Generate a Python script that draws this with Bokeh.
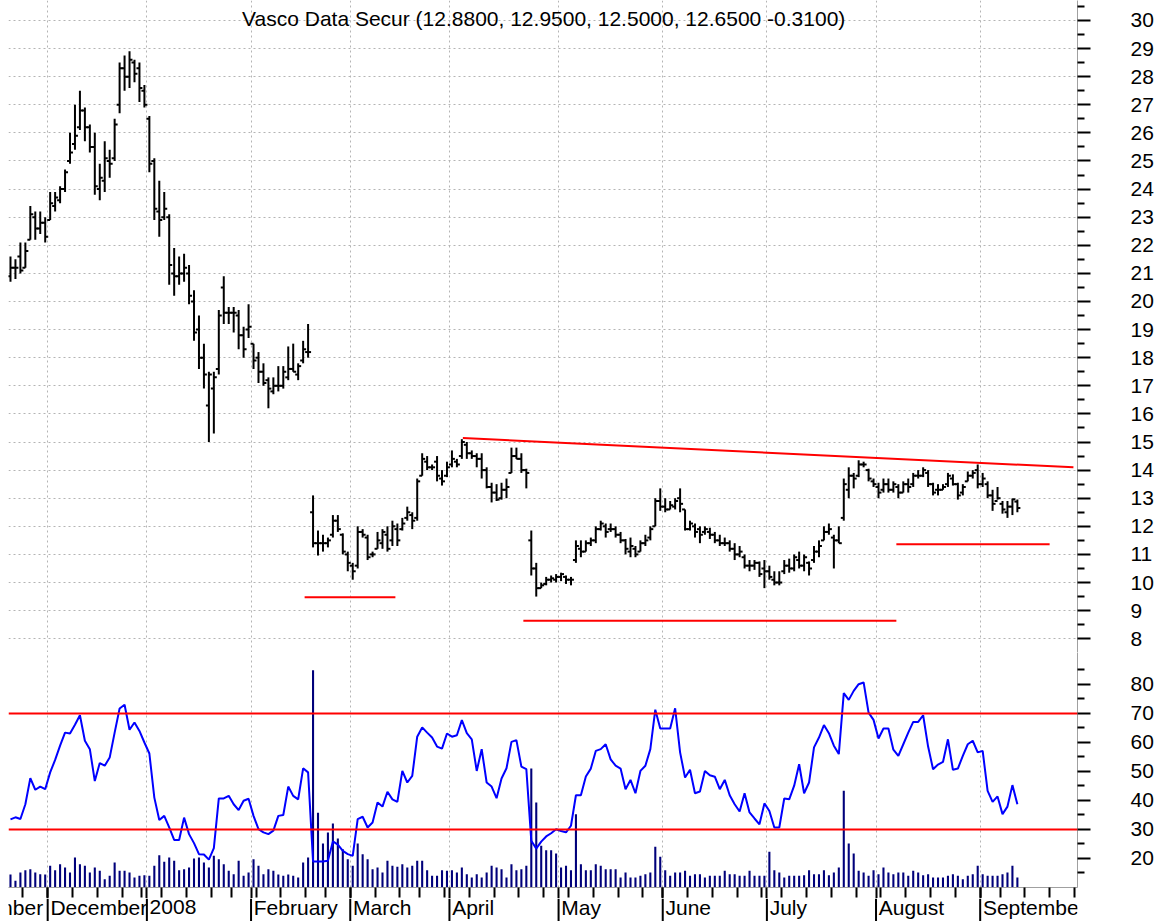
import numpy as np
import pandas as pd
from bokeh.plotting import figure
from bokeh.layouts import column
from bokeh.models import Range1d, FixedTicker, Label, Span, ColumnDataSource
from bokeh.core.properties import value
from bokeh.embed import file_html
from bokeh.resources import INLINE

FONT = "Liberation Sans"
FSIZE = "21px"

# ---------------- data ----------------
SYMBOL = "Vasco Data Secur"
LAST_CHANGE = -0.31
HOLIDAYS = ["2007-11-22", "2007-12-25", "2008-01-01", "2008-01-21", "2008-02-18",
            "2008-03-21", "2008-05-26", "2008-07-04", "2008-09-01"]
CAL_START, CAL_END, FIRST_DAY = "2007-11-01", "2008-09-30", "2007-11-20"
MONTH_LABELS = ["November", "December", "2008", "February", "March", "April",
                "May", "June", "July", "August", "September"]

HIGH = [21.6, 21.5, 22.1, 22.1, 23.4, 23.2, 23.2, 23.0, 23.9, 23.9,
        24.1, 24.7, 26.0, 27.0, 27.5, 26.9, 26.3, 26.0, 24.9, 25.7,
        25.4, 26.5, 28.5, 28.75, 28.9, 28.6, 28.5, 27.7, 26.6, 25.1,
        24.3, 23.9, 23.1, 21.9, 21.6, 21.7, 21.3, 20.4, 19.5, 18.5,
        17.5, 17.5, 19.7, 20.9, 19.8, 19.8, 19.7, 19.1, 19.9, 18.5,
        18.2, 17.8, 17.3, 17.3, 17.7, 17.7, 18.4, 18.5, 17.8, 18.6,
        19.2, 13.1, 11.85, 11.7, 11.6, 12.4, 12.4, 11.75, 11.1, 10.7,
        12.0, 11.9, 11.7, 11.1, 11.8, 11.9, 12.0, 12.2, 12.1, 12.3,
        12.7, 12.5, 13.7, 14.6, 14.5, 14.2, 14.5, 14.0, 14.3, 14.7,
        14.4, 15.1, 15.0, 14.7, 14.6, 14.6, 14.1, 13.55, 13.5, 13.55,
        13.7, 14.8, 14.8, 14.6, 14.05, 11.85, 10.7, 10.0, 10.2, 10.25,
        10.3, 10.35, 10.25, 10.2, 11.5, 11.5, 11.5, 11.6, 12.0, 12.2,
        12.1, 12.1, 12.0, 11.8, 11.55, 11.6, 11.3, 11.5, 11.7, 12.0,
        13.0, 13.35, 13.0, 12.9, 13.0, 13.35, 12.6, 12.2, 12.1, 12.0,
        12.0, 11.95, 11.8, 11.7, 11.6, 11.5, 11.4, 11.3, 11.0, 10.8,
        10.8, 10.75, 10.8, 10.6, 10.4, 10.4, 10.8, 10.85, 11.0, 11.1,
        11.0, 10.75, 11.3, 11.5, 12.0, 12.1, 11.7, 12.0, 13.7, 14.1,
        13.9, 14.35, 14.3, 14.05, 13.7, 13.55, 13.7, 13.7, 13.6, 13.5,
        13.6, 13.7, 13.9, 14.0, 14.1, 14.0, 13.55, 13.5, 13.5, 13.9,
        13.85, 13.55, 13.5, 13.95, 14.0, 14.2, 13.9, 13.6, 13.3, 13.4,
        12.9, 12.9, 12.99, 12.95]
LOW = [20.7, 20.8, 21.0, 21.2, 22.2, 22.2, 22.4, 22.1, 22.9, 23.2,
       23.5, 23.9, 24.9, 25.4, 26.1, 25.7, 25.3, 23.8, 23.6, 23.9,
       24.4, 25.0, 26.7, 27.5, 27.6, 27.8, 27.1, 26.9, 24.6, 22.9,
       22.3, 22.9, 20.6, 20.2, 20.6, 20.7, 19.9, 18.6, 17.6, 16.9,
       15.0, 15.3, 17.4, 19.2, 19.2, 18.9, 18.3, 18.0, 18.7, 17.6,
       17.1, 17.0, 16.2, 16.7, 16.8, 16.9, 17.2, 17.5, 17.2, 17.8,
       18.0, 11.25, 10.96, 11.1, 11.25, 11.6, 11.8, 11.0, 10.4, 10.1,
       10.5, 11.6, 10.8, 10.9, 11.2, 11.2, 11.1, 11.3, 11.3, 11.85,
       12.2, 11.9, 12.2, 13.8, 14.0, 14.0, 13.6, 13.45, 13.75, 14.1,
       14.1, 14.4, 14.4, 14.4, 14.1, 13.7, 13.35, 12.85, 12.9, 12.95,
       13.0, 13.9, 14.4, 13.9, 13.35, 10.25, 9.5, 9.8, 9.9, 10.0,
       10.0, 10.05, 9.95, 9.9, 10.7, 10.9, 11.1, 11.3, 11.4, 11.85,
       11.6, 11.8, 11.6, 11.4, 11.0, 10.9, 10.9, 11.1, 11.3, 11.5,
       12.0, 12.55, 12.5, 12.6, 12.6, 12.5, 11.85, 11.85, 11.6, 11.4,
       11.7, 11.55, 11.4, 11.3, 11.3, 11.1, 10.8, 10.9, 10.5, 10.4,
       10.45, 10.2, 9.8, 10.1, 9.9, 9.9, 10.3, 10.35, 10.4, 10.5,
       10.4, 10.25, 10.7, 10.9, 11.5, 11.7, 10.5, 11.4, 12.2, 13.0,
       13.35, 13.75, 14.1, 13.6, 13.4, 13.0, 13.2, 13.2, 13.2, 13.0,
       13.2, 13.2, 13.4, 13.7, 13.75, 13.4, 13.1, 13.1, 13.3, 13.4,
       13.45, 12.95, 13.1, 13.6, 13.7, 13.35, 13.4, 13.0, 12.55, 12.95,
       12.45, 12.3, 12.4, 12.5]
OPEN = [20.9, 21.2, 21.6, 21.2, 22.2, 23.0, 22.6, 22.8, 22.9, 23.4,
        23.6, 24.0, 25.0, 25.6, 26.2, 26.8, 26.2, 25.5, 24.0, 24.3,
        25.0, 25.1, 27.0, 28.3, 28.0, 28.5, 28.3, 27.5, 26.5, 25.0,
        23.2, 23.0, 23.0, 21.0, 20.9, 21.0, 21.0, 20.0, 19.0, 18.0,
        16.3, 16.9, 17.6, 20.5, 19.6, 19.6, 19.5, 18.8, 19.0, 18.5,
        18.0, 17.5, 17.2, 16.8, 17.0, 17.0, 17.3, 17.6, 17.4, 17.9,
        18.2, 12.5, 11.4, 11.4, 11.4, 11.7, 12.2, 11.7, 11.0, 10.6,
        10.6, 11.8, 11.6, 11.0, 11.2, 11.4, 11.7, 11.5, 11.9, 11.9,
        12.3, 12.4, 12.3, 13.8, 14.3, 14.1, 14.3, 13.7, 13.8, 14.2,
        14.3, 14.5, 14.9, 14.6, 14.5, 14.4, 14.0, 13.4, 13.2, 13.0,
        13.3, 13.9, 14.5, 14.4, 14.0, 11.5, 10.5, 9.8, 9.95, 10.1,
        10.1, 10.2, 10.2, 10.1, 10.8, 11.2, 11.1, 11.4, 11.5, 11.9,
        12.0, 11.9, 11.9, 11.7, 11.5, 11.1, 11.2, 11.1, 11.4, 11.6,
        12.0, 12.9, 12.7, 12.6, 12.7, 13.0, 12.6, 11.9, 12.0, 11.9,
        11.8, 11.8, 11.7, 11.5, 11.4, 11.4, 11.2, 11.0, 10.9, 10.6,
        10.6, 10.7, 10.5, 10.4, 10.1, 10.0, 10.4, 10.6, 10.5, 10.8,
        10.6, 10.7, 10.8, 11.1, 11.5, 11.8, 11.6, 11.5, 12.3, 13.3,
        13.8, 13.8, 14.2, 14.0, 13.6, 13.4, 13.3, 13.5, 13.3, 13.4,
        13.2, 13.5, 13.5, 13.8, 13.8, 13.9, 13.5, 13.3, 13.3, 13.5,
        13.7, 13.5, 13.2, 13.6, 13.8, 14.0, 13.5, 13.5, 13.1, 12.9,
        12.8, 12.5, 12.7, 12.88]
CLOSE = [21.2, 21.2, 21.1, 21.8, 23.1, 22.6, 22.8, 22.3, 23.5, 23.7,
         24.0, 24.6, 25.3, 25.9, 26.8, 26.2, 25.5, 24.1, 24.4, 25.1,
         24.9, 26.3, 28.3, 28.0, 28.6, 28.1, 27.6, 27.0, 24.9, 23.3,
         22.9, 23.3, 21.3, 20.9, 21.0, 21.2, 20.2, 18.9, 18.0, 17.4,
         17.4, 17.3, 19.5, 19.6, 19.6, 19.6, 18.8, 18.3, 19.1, 17.9,
         17.5, 17.1, 16.9, 17.0, 17.0, 17.5, 17.6, 17.5, 17.7, 18.3,
         18.2, 11.4, 11.4, 11.4, 11.5, 12.2, 11.9, 11.1, 10.7, 10.4,
         11.8, 11.7, 10.9, 11.0, 11.5, 11.8, 11.2, 12.0, 11.5, 12.1,
         12.5, 12.2, 13.6, 14.4, 14.1, 14.1, 13.8, 13.6, 14.1, 14.4,
         14.2, 15.0, 14.6, 14.5, 14.4, 14.0, 13.4, 13.2, 12.95, 13.3,
         13.4, 14.5, 14.4, 14.0, 13.9, 10.5, 9.8, 9.9, 10.1, 10.15,
         10.2, 10.3, 10.1, 10.1, 11.3, 11.1, 11.4, 11.5, 11.9, 12.1,
         11.8, 11.9, 11.7, 11.5, 11.2, 11.3, 11.0, 11.4, 11.5, 11.9,
         12.9, 12.7, 12.6, 12.75, 12.9, 12.8, 11.9, 12.1, 11.8, 11.7,
         11.9, 11.7, 11.5, 11.4, 11.4, 11.2, 11.0, 11.1, 10.6, 10.6,
         10.7, 10.3, 10.4, 10.2, 10.0, 10.0, 10.6, 10.5, 10.9, 10.6,
         10.9, 10.5, 11.1, 11.3, 11.8, 11.9, 11.5, 11.4, 13.5, 13.8,
         13.7, 14.2, 14.2, 13.7, 13.5, 13.2, 13.5, 13.3, 13.5, 13.2,
         13.5, 13.4, 13.8, 13.8, 14.0, 13.5, 13.2, 13.3, 13.4, 13.8,
         13.5, 13.1, 13.4, 13.8, 13.9, 13.5, 13.7, 13.1, 12.8, 13.0,
         12.6, 12.7, 12.96, 12.65]

RSI = [33.5, 34.2, 33.6, 38.7, 47.7, 43.7, 44.8, 43.9, 49.7, 54.0,
       58.9, 63.4, 63.1, 66.1, 69.4, 60.6, 57.7, 46.7, 52.9, 52.0,
       54.8, 63.4, 71.7, 73.0, 64.4, 66.9, 64.0, 60.0, 56.2, 41.0,
       33.3, 34.7, 30.7, 26.4, 26.4, 34.1, 28.4, 25.3, 21.5, 21.4,
       19.6, 23.6, 40.7, 40.7, 41.6, 38.7, 36.7, 39.9, 40.6, 34.7,
       30.1, 29.0, 28.4, 29.6, 34.7, 35.0, 44.8, 41.6, 40.4, 51.1,
       49.7, 19.0, 19.0, 19.0, 19.2, 25.9, 24.8, 22.6, 21.5, 20.9,
       33.6, 34.4, 30.7, 32.4, 39.3, 37.9, 43.0, 40.4, 39.5,
       50.2, 46.2, 48.5, 62.0, 65.2, 63.4, 61.7, 58.6, 57.9, 63.1,
       62.0, 62.5, 67.7, 63.2, 61.1, 50.2, 57.7, 46.2, 44.8, 40.8,
       47.6, 51.1, 60.2, 60.8, 51.7, 50.8, 26.1, 23.4, 25.8, 27.6,
       28.7, 30.1, 29.5, 29.0, 31.3, 41.8, 41.8, 48.3, 51.0, 57.1,
       57.7, 59.4, 54.2, 52.0, 51.0, 43.9, 47.1, 42.5, 50.2, 52.0,
       57.7, 71.3, 64.8, 64.8, 64.8, 71.8, 56.6, 47.9, 50.6, 42.5,
       43.1, 50.2, 48.7, 48.2, 43.9, 47.1, 41.8, 38.7, 36.2, 42.5,
       35.9, 33.8, 31.8, 39.0, 36.4, 30.7,
       30.7, 40.7, 40.4, 45.1, 52.5, 42.5, 46.2, 58.3, 61.7, 66.0,
       63.2, 58.9, 56.0, 77.0, 74.7, 77.8, 80.1, 80.7, 70.3, 67.8,
       61.4, 64.8, 64.8, 57.5, 55.4, 59.4, 63.4, 67.1, 67.1, 69.4,
       58.6, 50.8, 52.4, 53.3, 61.1, 50.6, 51.0, 55.4, 59.4, 60.6,
       56.6, 57.1, 43.3, 39.5, 41.4, 35.3, 37.9, 45.3, 38.7]

VOLUME_K = [650, 335, 750, 865, 915, 750, 665, 650, 1085, 865,
            1165, 1000, 750, 1500, 1165, 1085, 750, 1000, 835, 415,
            585, 1250, 835, 835, 750, 500, 585, 615, 585, 1085,
            1615, 1285, 1500, 1335, 865, 915, 1000, 1450, 1500, 1250,
            1000, 1585, 1415, 1165, 835, 665, 1335, 585, 750, 1415,
            1085, 665, 915, 835, 650, 585, 650, 585, 500, 1250,
            1500, 10865, 3735, 2200, 2750, 3200, 2450, 1915, 1415, 1085,
            2200, 1665, 1415, 915, 1000, 750, 1335, 1085, 1035,
            1165, 1000, 1085, 1335, 1335, 865, 585, 585, 865, 835,
            865, 750, 1000, 665, 500, 665, 500, 750, 1085, 1000,
            915, 500, 1165, 865, 915, 1085, 5950, 4250, 2085, 1865,
            1865, 1700, 1000, 1085, 865, 3665, 1165, 865, 865, 1165,
            1085, 915, 915, 915, 500, 750, 500, 500, 585, 665,
            750, 2035, 1535, 865, 585, 750, 750, 835, 585, 665,
            665, 500, 585, 585, 585, 835, 665, 665, 585, 585,
            835, 585, 585, 585, 1785, 865,
            750, 500, 585, 585, 585, 615, 865, 665, 665, 865,
            615, 750, 1000, 4835, 2200, 1700, 835, 750, 585, 865,
            665, 1000, 750, 665, 750, 750, 585, 835, 750, 615,
            665, 500, 500, 500, 585, 665, 585, 415, 585, 665,
            1085, 665, 585, 585, 585, 665, 750, 1085, 500]

RSI_LEVELS = [70, 30]
# hand-drawn lines: (start bar, end bar, start price, end price)
TREND_LINES = [(91.2, 214.3, 15.14, 14.10),
               (59.3, 77.6, 9.48, 9.48),
               (103.4, 178.6, 8.64, 8.64),
               (178.6, 209.5, 11.36, 11.36)]

# ---------------- calendar / index ----------------
cal = pd.bdate_range(CAL_START, CAL_END, freq="C", holidays=HOLIDAYS)
pos0 = cal.get_loc(pd.Timestamp(FIRST_DAY))
tpos = np.arange(len(cal)) - pos0
month_bounds = [float(tpos[k] - 0.5) for k in range(len(cal))
                if k == 0 or cal[k].month != cal[k - 1].month]
week_bounds = [float(tpos[k] - 0.5) for k in range(1, len(cal))
               if cal[k].weekday() < cal[k - 1].weekday()]

n = len(CLOSE)
idx = np.arange(n)
src = ColumnDataSource(dict(x=idx, xl=idx - 0.6, xr=idx + 0.6,
                            o=OPEN, h=HIGH, l=LOW, c=CLOSE,
                            rsi=RSI, vol=VOLUME_K))
msrc = ColumnDataSource(dict(b=month_bounds, tx=[b + 0.55 for b in month_bounds],
                             name=MONTH_LABELS))

xr = Range1d(-0.40, 215.12)

W = 1165
LEFT, RIGHT = 8, 88
GRID_COLOR = "#b4b4b4"
AXIS_LINE = "#a0a0a0"


def style_right_axis(ax, ticks, minor):
    ax.ticker = FixedTicker(ticks=ticks, minor_ticks=minor)
    ax.axis_line_color = AXIS_LINE
    ax.major_tick_line_color = "black"
    ax.minor_tick_line_color = "black"
    ax.major_tick_line_width = 2
    ax.minor_tick_line_width = 2
    ax.major_tick_in = 0
    ax.minor_tick_in = 0
    ax.major_tick_out = 13
    ax.minor_tick_out = 7
    ax.major_label_standoff = 40
    ax.major_label_text_font = FONT
    ax.major_label_text_font_size = FSIZE
    ax.major_label_text_color = "black"


# ---------------- price panel ----------------
p1 = figure(width=W, height=652, x_range=xr, y_range=Range1d(7.51, 30.71),
            x_axis_location=None, y_axis_location="right",
            toolbar_location=None, output_backend="svg",
            min_border_left=LEFT, min_border_right=RIGHT, min_border_top=0, min_border_bottom=0)
p1.outline_line_color = None
style_right_axis(p1.yaxis[0], list(range(8, 31)), [k + 0.5 for k in range(7, 31)])
p1.ygrid.grid_line_color = GRID_COLOR
p1.ygrid.grid_line_dash = "2 3"
for g in p1.xgrid:
    g.ticker = FixedTicker(ticks=month_bounds)
    g.grid_line_color = GRID_COLOR
    g.grid_line_dash = "2 3"

p1.segment(x0="x", y0="l", x1="x", y1="h", source=src, line_color="black", line_width=2)
p1.segment(x0="xl", y0="o", x1="x", y1="o", source=src, line_color="black", line_width=2)
p1.segment(x0="x", y0="c", x1="xr", y1="c", source=src, line_color="black", line_width=2)

for (xa, xb, ya, yb) in TREND_LINES:
    p1.line([xa, xb], [ya, yb], line_color="#ff0000", line_width=2)

title_text = "%s (%.4f, %.4f, %.4f, %.4f %.4f)" % (SYMBOL, OPEN[-1], HIGH[-1], LOW[-1], CLOSE[-1], LAST_CHANGE)
p1.add_layout(Label(x=107.5, y=30.07, text=title_text, text_align="center",
                    text_baseline="middle", text_font=FONT, text_font_size=FSIZE,
                    text_color="black"))

# ---------------- RSI / volume panel ----------------
p2 = figure(width=W, height=246, x_range=xr, y_range=Range1d(10, 91.03),
            x_axis_location="below", y_axis_location="right",
            toolbar_location=None, output_backend="svg",
            min_border_left=LEFT, min_border_right=RIGHT, min_border_top=0, min_border_bottom=11)
p2.outline_line_color = None
p2.extra_y_ranges = {"vol": Range1d(0, 11750)}
style_right_axis(p2.yaxis[0], [20, 30, 40, 50, 60, 70, 80], [15, 25, 35, 45, 55, 65, 75, 85])
p2.ygrid.grid_line_color = None

xa = p2.xaxis[0]
xa.ticker = FixedTicker(ticks=month_bounds, minor_ticks=week_bounds)
xa.axis_line_color = AXIS_LINE
xa.major_tick_line_color = "black"
xa.minor_tick_line_color = "black"
xa.major_tick_line_width = 2
xa.minor_tick_line_width = 2
xa.major_tick_in = 0
xa.minor_tick_in = 0
xa.major_tick_out = 11
xa.minor_tick_out = 10
xa.major_label_standoff = 0
xa.major_label_text_font_size = "1px"
xa.major_label_overrides = {b: "" for b in month_bounds}
p2.xgrid.grid_line_color = GRID_COLOR
p2.xgrid.grid_line_dash = "2 3"

p2.vbar(x="x", top="vol", bottom=0, width=0.42, source=src, y_range_name="vol",
        fill_color="#00007a", line_color=None)
for lvl in RSI_LEVELS:
    p2.add_layout(Span(location=lvl, dimension="width", line_color="#ff0000", line_width=2))
p2.line(x="x", y="rsi", source=src, line_color="#0000ff", line_width=2)

# ---------------- month label strip ----------------
p3 = figure(width=W, height=23, x_range=xr, y_range=Range1d(0, 1),
            x_axis_location=None, y_axis_location=None,
            toolbar_location=None, output_backend="svg",
            min_border_left=LEFT, min_border_right=RIGHT, min_border_top=0, min_border_bottom=0)
p3.outline_line_color = None
p3.xgrid.grid_line_color = None
p3.ygrid.grid_line_color = None
p3.segment(x0="b", y0=0, x1="b", y1=1, source=msrc, line_color="black", line_width=2)
p3.text(x="tx", y=0.62, text="name", source=msrc, text_align="left", text_baseline="middle",
        text_font=value(FONT), text_font_size=FSIZE, text_color="black")

layout = column(p1, p2, p3, spacing=0)
open("out.html", "w").write(file_html(layout, INLINE))
